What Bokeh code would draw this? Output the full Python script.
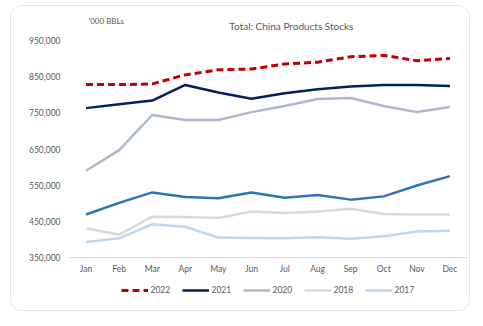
from bokeh.plotting import figure
from bokeh.layouts import column
from bokeh.models import (Range1d, FixedTicker, NumeralTickFormatter, Legend, LegendItem, Label)
from bokeh.embed import file_html
from bokeh.resources import INLINE

months = ["Jan", "Feb", "Mar", "Apr", "May", "Jun", "Jul", "Aug", "Sep", "Oct", "Nov", "Dec"]
y2022 = [828000, 828000, 830000, 855000, 869000, 871000, 885000, 890000, 905000, 909000, 894000, 900000]
y2021 = [763000, 774000, 784000, 827000, 806000, 789000, 804000, 815000, 823000, 827000, 827000, 824000]
y2020 = [590000, 647000, 744000, 730000, 730000, 752000, 769000, 788000, 791000, 769000, 752000, 766000]
y2019 = [469000, 501000, 530000, 517000, 514000, 530000, 515000, 523000, 510000, 519000, 549000, 575000]
y2018 = [431000, 413000, 463000, 462000, 459000, 477000, 473000, 477000, 485000, 470000, 469000, 469000]
y2017 = [393000, 403000, 442000, 435000, 405000, 404000, 403000, 406000, 402000, 409000, 422000, 424000]
y_ticks = [350000, 450000, 550000, 650000, 750000, 850000, 950000]
legend_labels = ["2022", "2021", "2020", "2018", "2017"]
title_text = "Total: China Products Stocks"
unit_text = "'000 BBLs"

series = {"2022": y2022, "2021": y2021, "2020": y2020, "2019": y2019, "2018": y2018, "2017": y2017}

FONT = "Lato"
GREY = "#595959"
styles = {
    "2022": dict(line_color="#c00000", line_width=3, line_dash="7 4"),
    "2021": dict(line_color="#002060", line_width=2.5),
    "2020": dict(line_color="#adb9ca", line_width=2.5),
    "2019": dict(line_color="#2e75b6", line_width=2.5),
    "2018": dict(line_color="#d9d9d9", line_width=2.5),
    "2017": dict(line_color="#bdd7ee", line_width=2.5),
}

W = 458

# header strip (title + unit)
hf = figure(width=W, height=28, x_range=Range1d(0, W), y_range=Range1d(0, 28),
            x_axis_type=None, y_axis_type=None, output_backend="svg", toolbar_location=None,
            min_border=0)
hf.outline_line_color = None
hf.xgrid.visible = False
hf.ygrid.visible = False
hf.add_layout(Label(x=256, y=9, text=title_text, text_align="center", text_baseline="middle",
                    text_font=FONT, text_font_size="10px", text_color=GREY))
hf.add_layout(Label(x=22, y=14, text=unit_text, text_align="left", text_baseline="middle",
                    text_font=FONT, text_font_size="8px", text_color=GREY))

# main chart
p = figure(x_range=months, y_range=Range1d(350000, 950000), width=W, height=243,
           output_backend="svg", toolbar_location=None,
           min_border_left=58, min_border_right=3, min_border_top=6, min_border_bottom=20)
p.outline_line_color = None
p.background_fill_color = "white"
p.border_fill_color = "white"
p.xgrid.visible = False
p.ygrid.visible = False

p.yaxis.ticker = FixedTicker(ticks=y_ticks)
p.yaxis.formatter = NumeralTickFormatter(format="0,0")
p.yaxis.axis_line_color = None
for ax in (p.xaxis, p.yaxis):
    ax.major_label_text_font = FONT
    ax.major_label_text_font_size = "8.5px"
    ax.major_label_text_color = GREY
    ax.major_tick_line_color = None
    ax.minor_tick_line_color = None
    ax.major_tick_out = 0
    ax.minor_tick_out = 0
p.yaxis.major_label_standoff = 9
p.xaxis.axis_line_color = "#d9d9d9"
p.xaxis.major_label_standoff = 6

for key in ["2022", "2021", "2020", "2019", "2018", "2017"]:
    p.line(months, series[key], **styles[key])

# legend strip below the chart (proxy lines lie outside this strip's range)
lf = figure(width=W, height=33, x_range=Range1d(0, 1), y_range=Range1d(0, 1),
            x_axis_type=None, y_axis_type=None, output_backend="svg", toolbar_location=None,
            min_border=0)
lf.outline_line_color = None
lf.xgrid.visible = False
lf.ygrid.visible = False
items = []
for lab in legend_labels:
    r = lf.line(list(range(len(months))), series[lab], **styles[lab])
    items.append(LegendItem(label=lab, renderers=[r]))
legend = Legend(items=items, orientation="horizontal", location="top_center",
                border_line_color=None, background_fill_alpha=0,
                label_text_font=FONT, label_text_font_size="8.5px", label_text_color=GREY,
                glyph_width=27, glyph_height=10, label_standoff=3, spacing=11,
                padding=0, margin=8)
lf.add_layout(legend)

layout = column(hf, p, lf, spacing=0)
layout.margin = (5, 0, 0, 10)
layout.styles = {"border": "1px solid #e4e4e4", "border-radius": "12px",
                 "background-color": "white", "overflow": "hidden"}

open("out.html", "w").write(file_html(layout, INLINE))
